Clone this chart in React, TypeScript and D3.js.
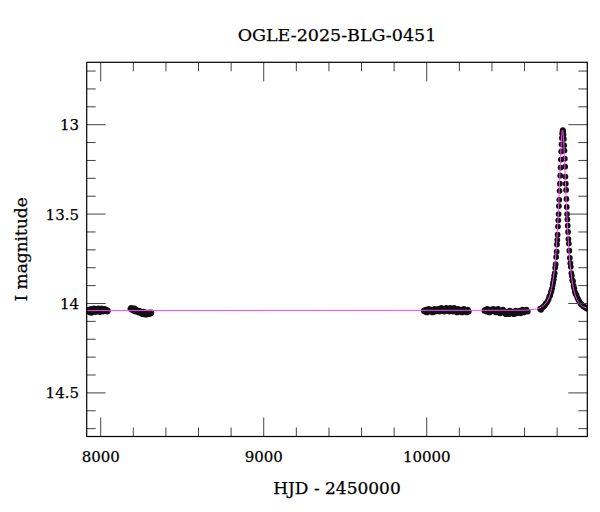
import React from 'react'
import * as d3 from 'd3'

// --- data ---
const title = 'OGLE-2025-BLG-0451'
const xLabel = 'HJD - 2450000'
const yLabel = 'I magnitude'

const xMajorTicks = [8000, 9000, 10000]
const yMajorTicks = [13, 13.5, 14, 14.5]

const season1Hjd = [7918, 7924, 7929, 7934, 7939, 7944, 7949, 7954, 7959, 7964, 7969, 7974, 7979, 7984, 7989, 7994, 7999, 8004, 8009, 8014, 8019, 8024, 8029, 8034, 8039, 8044]
const season1Mag = [14.04, 14.035, 14.045, 14.05, 14.03, 14.052, 14.045, 14.035, 14.028, 14.04, 14.048, 14.035, 14.04, 14.028, 14.035, 14.048, 14.04, 14.028, 14.035, 14.045, 14.04, 14.03, 14.04, 14.035, 14.045, 14.04]

const season2Hjd = [8182, 8187, 8192, 8197, 8202, 8207, 8212, 8217, 8222, 8227, 8232, 8237, 8242, 8247, 8252, 8257, 8262, 8267, 8272, 8277, 8282, 8287, 8292, 8297, 8302, 8307, 8311]
const season2Mag = [14.03, 14.025, 14.035, 14.028, 14.04, 14.028, 14.045, 14.035, 14.04, 14.045, 14.05, 14.04, 14.045, 14.055, 14.05, 14.06, 14.045, 14.055, 14.062, 14.05, 14.062, 14.055, 14.06, 14.05, 14.058, 14.055, 14.05]

const season3Hjd = [9982, 9988, 9994, 10000, 10006, 10012, 10018, 10024, 10030, 10036, 10042, 10048, 10054, 10060, 10066, 10072, 10078, 10084, 10090, 10096, 10102, 10108, 10114, 10120, 10126, 10132, 10138, 10144, 10150, 10156, 10162, 10168, 10174, 10180, 10186, 10192, 10198, 10204, 10210, 10216, 10222, 10228, 10234, 10240, 10246, 10252, 10258]
const season3Mag = [14.04, 14.045, 14.035, 14.05, 14.04, 14.03, 14.045, 14.04, 14.035, 14.05, 14.04, 14.03, 14.045, 14.035, 14.04, 14.03, 14.045, 14.035, 14.025, 14.04, 14.03, 14.045, 14.035, 14.025, 14.04, 14.03, 14.045, 14.025, 14.035, 14.03, 14.045, 14.025, 14.04, 14.035, 14.05, 14.03, 14.04, 14.045, 14.035, 14.05, 14.04, 14.03, 14.045, 14.04, 14.05, 14.035, 14.045]

const season4Hjd = [10354, 10360, 10366, 10372, 10378, 10384, 10390, 10396, 10402, 10408, 10414, 10420, 10426, 10432, 10438, 10444, 10450, 10456, 10462, 10468, 10474, 10480, 10486, 10492, 10498, 10504, 10510, 10516, 10522, 10528, 10534, 10540, 10546, 10552, 10558, 10564, 10570, 10576, 10582, 10588, 10594, 10600, 10606, 10612, 10620]
const season4Mag = [14.04, 14.035, 14.045, 14.03, 14.04, 14.05, 14.035, 14.045, 14.04, 14.03, 14.045, 14.035, 14.05, 14.04, 14.03, 14.045, 14.055, 14.04, 14.05, 14.035, 14.045, 14.055, 14.06, 14.045, 14.05, 14.06, 14.04, 14.055, 14.05, 14.045, 14.06, 14.05, 14.04, 14.055, 14.045, 14.05, 14.04, 14.055, 14.045, 14.035, 14.05, 14.04, 14.045, 14.035, 14.045]

const eventHjd = [10695, 10701, 10707, 10713, 10719, 10725, 10731, 10737, 10743, 10748, 10753, 10757, 10761, 10765, 10769, 10773, 10776, 10779, 10782, 10785, 10788, 10791, 10794, 10797, 10799, 10801, 10803, 10805, 10807, 10809, 10811, 10813, 10815, 10817, 10819, 10821, 10823, 10825, 10827, 10829, 10831, 10833, 10835, 10837, 10839, 10841, 10843, 10845, 10847, 10849, 10851, 10853, 10855, 10857, 10859, 10861, 10863, 10865, 10867, 10869, 10872, 10875, 10878, 10881, 10884, 10887, 10890, 10893, 10897, 10901, 10905, 10909, 10913, 10919, 10925, 10931, 10937, 10943, 10949, 10955, 10961, 10967, 10973, 10979, 10985]
const eventMag = [14.03, 14.035, 14.025, 14.02, 14.015, 14.01, 14.0, 13.995, 13.985, 13.975, 13.96, 13.955, 13.94, 13.93, 13.915, 13.895, 13.88, 13.865, 13.845, 13.83, 13.8, 13.78, 13.74, 13.71, 13.67, 13.645, 13.615, 13.57, 13.535, 13.5, 13.455, 13.42, 13.37, 13.33, 13.285, 13.24, 13.195, 13.15, 13.11, 13.075, 13.05, 13.035, 13.03, 13.04, 13.055, 13.08, 13.115, 13.145, 13.19, 13.235, 13.29, 13.33, 13.365, 13.415, 13.46, 13.5, 13.53, 13.565, 13.6, 13.64, 13.665, 13.705, 13.745, 13.775, 13.795, 13.83, 13.845, 13.87, 13.875, 13.9, 13.915, 13.935, 13.945, 13.955, 13.97, 13.98, 13.99, 14.0, 14.005, 14.01, 14.015, 14.02, 14.022, 14.025, 14.03]

const modelHjd = [7900, 10583, 10663, 10703, 10733, 10753, 10773, 10783, 10793, 10803, 10808, 10813, 10818, 10823, 10828, 10833, 10838, 10843, 10848, 10853, 10858, 10863, 10873, 10883, 10893, 10913, 10933, 10963, 11000]
const modelMag = [14.04, 14.038, 14.032, 14.02, 13.995, 13.958, 13.88, 13.811, 13.711, 13.566, 13.474, 13.368, 13.255, 13.146, 13.062, 13.03, 13.062, 13.146, 13.255, 13.368, 13.474, 13.566, 13.711, 13.811, 13.88, 13.958, 13.995, 14.02, 14.028]

const W = 600
const H = 512
const plot = { left: 86.7, right: 587.3, top: 62.3, bottom: 436.5 }
const font = '"DejaVu Serif", serif'

export default function App() {
  const x = d3.scaleLinear().domain([7914, 10985]).range([plot.left, plot.right])
  const y = d3.scaleLinear().domain([12.651, 14.744]).range([plot.top, plot.bottom])

  const xMinor = d3.range(8000, 11000, 200).filter(v => !xMajorTicks.includes(v))
  const yMinor = d3.range(127, 148, 1).map(v => v / 10).filter(v => !yMajorTicks.includes(v))

  const seasons = [
    [season1Hjd, season1Mag],
    [season2Hjd, season2Mag],
    [season3Hjd, season3Mag],
    [season4Hjd, season4Mag],
    [eventHjd, eventMag],
  ]
  const points: [number, number][] = []
  seasons.forEach(([hs, ms]) => hs.forEach((h, i) => points.push([h, ms[i]])))

  const model = modelHjd.map((h, i) => [h, modelMag[i]] as [number, number])
  const line = d3.line<[number, number]>()
    .x(d => x(d[0]))
    .y(d => y(d[1]))
    .curve(d3.curveMonotoneX)

  const majLen = 19
  const minLen = 9
  const tickColor = '#444'

  return (
    <svg width={W} height={H} style={{ position: 'absolute', left: 0, top: 0, background: '#fff' }}>
      <defs>
        <clipPath id="plotClip">
          <rect x={plot.left} y={plot.top} width={plot.right - plot.left} height={plot.bottom - plot.top} />
        </clipPath>
      </defs>

      <g clipPath="url(#plotClip)">
        {points.map((p, i) => (
          <circle key={i} cx={x(p[0])} cy={y(p[1])} r={2.9} fill="#111" />
        ))}
        <path d={line(model) || ''} fill="none" stroke="#ff44ff" strokeWidth={1} />
      </g>

      {/* ticks on all four sides, pointing inward */}
      <g stroke={tickColor} strokeWidth={1}>
        {xMajorTicks.map(v => (
          <g key={'xm' + v}>
            <line x1={x(v)} x2={x(v)} y1={plot.bottom} y2={plot.bottom - majLen} />
            <line x1={x(v)} x2={x(v)} y1={plot.top} y2={plot.top + majLen} />
          </g>
        ))}
        {xMinor.map(v => (
          <g key={'xn' + v}>
            <line x1={x(v)} x2={x(v)} y1={plot.bottom} y2={plot.bottom - minLen} />
            <line x1={x(v)} x2={x(v)} y1={plot.top} y2={plot.top + minLen} />
          </g>
        ))}
        {yMajorTicks.map(v => (
          <g key={'ym' + v}>
            <line x1={plot.left} x2={plot.left + majLen} y1={y(v)} y2={y(v)} />
            <line x1={plot.right} x2={plot.right - majLen} y1={y(v)} y2={y(v)} />
          </g>
        ))}
        {yMinor.map(v => (
          <g key={'yn' + v}>
            <line x1={plot.left} x2={plot.left + minLen} y1={y(v)} y2={y(v)} />
            <line x1={plot.right} x2={plot.right - minLen} y1={y(v)} y2={y(v)} />
          </g>
        ))}
      </g>

      <rect x={plot.left} y={plot.top} width={plot.right - plot.left} height={plot.bottom - plot.top}
        fill="none" stroke="#000" strokeWidth={1.2} />

      <g fontFamily={font} fill="#000" stroke="#000" strokeWidth={0.25}>
        {xMajorTicks.map(v => (
          <text key={'xl' + v} x={x(v)} y={462} textAnchor="middle" fontSize={15}>{v}</text>
        ))}
        {yMajorTicks.map(v => (
          <text key={'yl' + v} x={79} y={y(v) + 5.5} textAnchor="end" fontSize={15}>{v}</text>
        ))}
        <text x={(plot.left + plot.right) / 2} y={41} textAnchor="middle" fontSize={17.5}>{title}</text>
        <text x={(plot.left + plot.right) / 2} y={494} textAnchor="middle" fontSize={17}>{xLabel}</text>
        <text transform={`translate(27,${(plot.top + plot.bottom) / 2}) rotate(-90)`} textAnchor="middle" fontSize={17}>{yLabel}</text>
      </g>
    </svg>
  )
}
